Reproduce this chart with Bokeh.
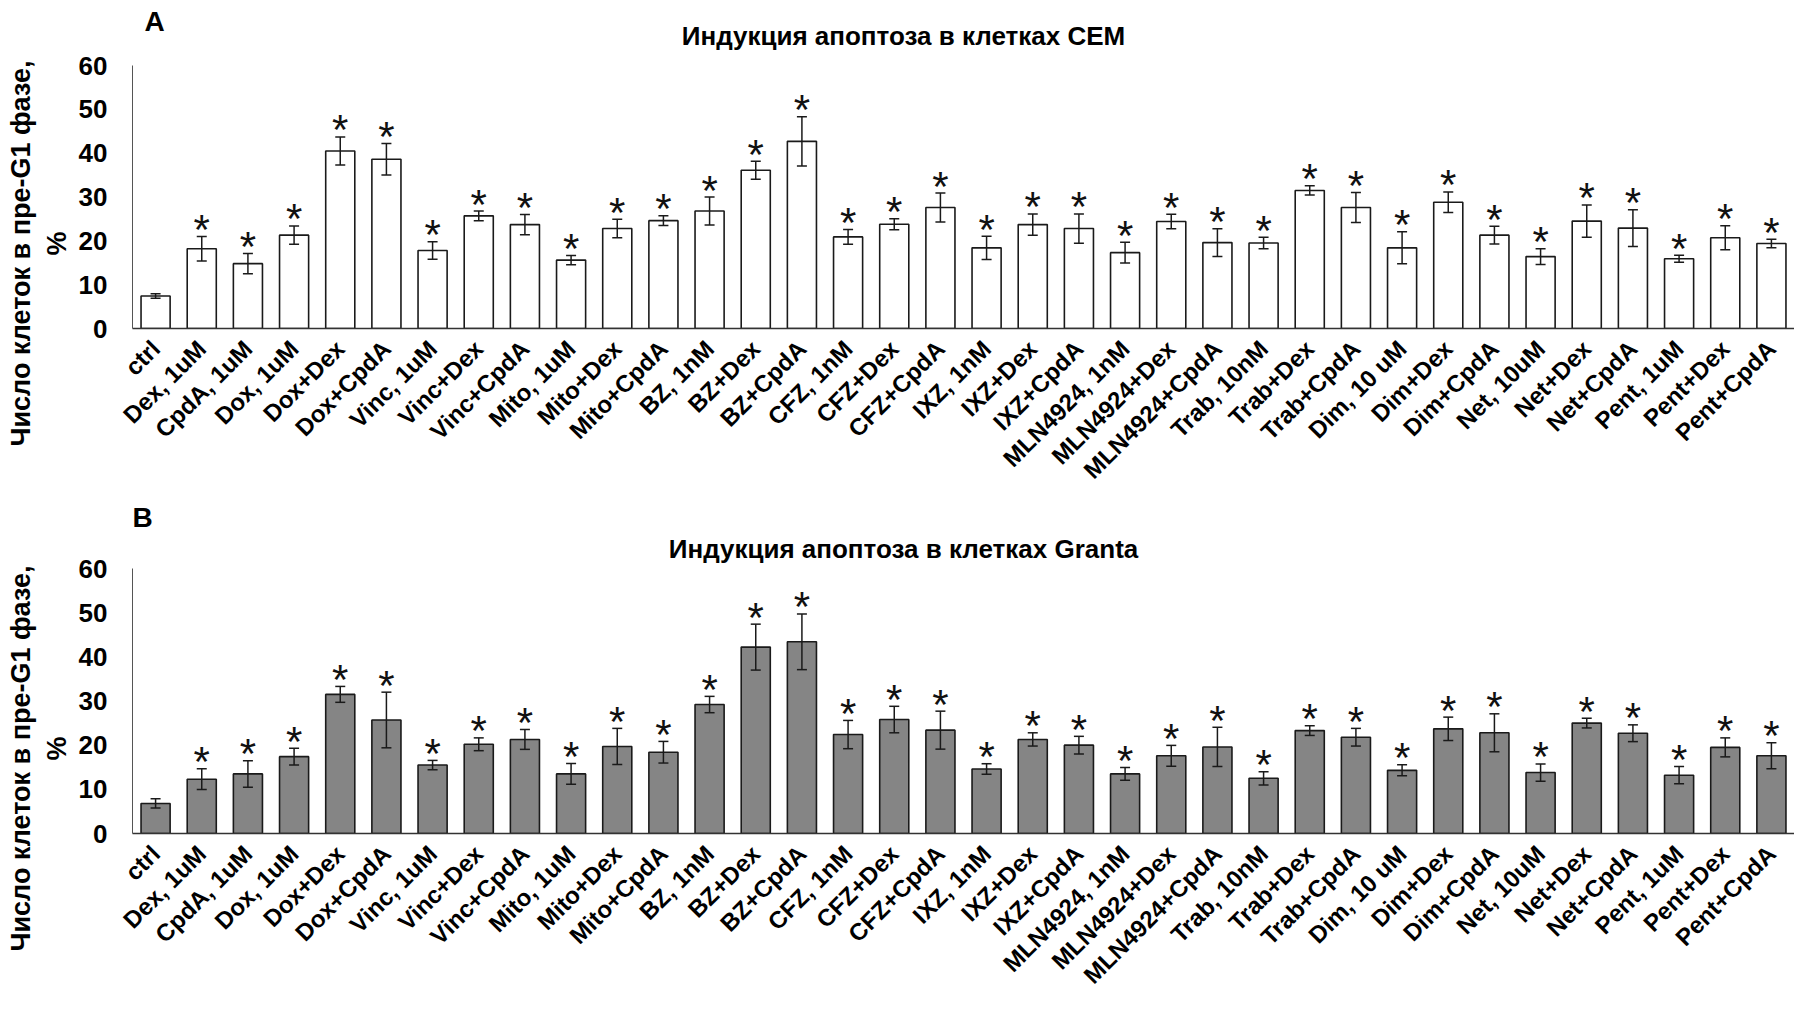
import math
from bokeh.plotting import figure
from bokeh.models import (Range1d, FixedTicker, Whisker, TeeHead, ColumnDataSource,
                          Label, Title)
from bokeh.layouts import column
from bokeh.embed import file_html
from bokeh.resources import INLINE
from bokeh.core.properties import value

# Treatments (x axis categories)
treatments = [
    "ctrl", "Dex, 1uM", "CpdA, 1uM", "Dox, 1uM", "Dox+Dex", "Dox+CpdA",
    "Vinc, 1uM", "Vinc+Dex", "Vinc+CpdA", "Mito, 1uM", "Mito+Dex", "Mito+CpdA",
    "BZ, 1nM", "BZ+Dex", "BZ+CpdA", "CFZ, 1nM", "CFZ+Dex", "CFZ+CpdA",
    "IXZ, 1nM", "IXZ+Dex", "IXZ+CpdA", "MLN4924, 1nM", "MLN4924+Dex", "MLN4924+CpdA",
    "Trab, 10nM", "Trab+Dex", "Trab+CpdA", "Dim, 10 uM", "Dim+Dex", "Dim+CpdA",
    "Net, 10uM", "Net+Dex", "Net+CpdA", "Pent, 1uM", "Pent+Dex", "Pent+CpdA",
]

# CEM cells: % of cells in pre-G1 phase (mean and error)
cem_mean = [7.4, 18.2, 14.8, 21.3, 40.5, 38.6, 17.8, 25.7, 23.7, 15.6, 22.8, 24.6,
            26.8, 36.1, 42.7, 20.9, 23.8, 27.6, 18.4, 23.7, 22.8, 17.3, 24.4, 19.6,
            19.5, 31.5, 27.6, 18.4, 28.8, 21.3, 16.4, 24.5, 22.9, 15.9, 20.7, 19.4]
cem_err = [0.5, 2.8, 2.3, 2.1, 3.2, 3.6, 2.0, 1.1, 2.3, 1.05, 2.1, 1.1,
           3.2, 2.05, 5.6, 1.7, 1.25, 3.3, 2.65, 2.45, 3.35, 2.35, 1.65, 3.15,
           1.3, 1.05, 3.4, 3.65, 2.35, 2.0, 1.8, 3.7, 4.2, 0.8, 2.75, 0.95]
cem_sig = [False] + [True] * 35

# Granta cells
granta_mean = [6.8, 12.3, 13.5, 17.4, 31.5, 25.7, 15.5, 20.2, 21.3, 13.5, 19.7, 18.4,
               29.2, 42.2, 43.4, 22.4, 25.8, 23.4, 14.6, 21.3, 20.0, 13.5, 17.6, 19.6,
               12.5, 23.3, 21.8, 14.3, 23.7, 22.8, 13.8, 25.0, 22.7, 13.2, 19.5, 17.6]
granta_err = [1.05, 2.35, 3.0, 1.9, 1.8, 6.3, 1.05, 1.45, 2.25, 2.35, 4.1, 2.45,
              1.85, 5.2, 6.3, 3.2, 3.0, 4.3, 1.2, 1.5, 2.0, 1.45, 2.35, 4.45,
              1.5, 1.1, 2.0, 1.25, 2.65, 4.3, 1.95, 1.1, 1.9, 1.95, 2.15, 2.95]
granta_sig = [False] + [True] * 35

y_ticks = [0, 10, 20, 30, 40, 50, 60]
y_label_main = "Число клеток в пре-G1 фазе,"
y_label_unit = "%"

FONT = "Liberation Sans"
INK = "#1a1a1a"
WIDTH = 1794
LEFT = 132


def make_panel(mean, err, sig, fill, letter, title, height, bottom, y_top,
               px_per_unit, letter_pos, title_pos):
    n = len(treatments)
    xs = list(range(n))
    px_per_cat = (WIDTH - LEFT) / n
    frame_bottom = height - bottom

    def to_x(px):  # canvas x (px) -> data x
        return -0.5 + (px - LEFT) / px_per_cat

    def to_y(py):  # canvas y (px, from top) -> data y
        return (frame_bottom - py) / px_per_unit

    src = ColumnDataSource(dict(
        x=xs, mean=mean,
        upper=[m + e for m, e in zip(mean, err)],
        lower=[m - e for m, e in zip(mean, err)],
    ))
    p = figure(width=WIDTH, height=height, title=None,
               x_range=Range1d(-0.5, n - 0.5), y_range=Range1d(0, y_top),
               output_backend="svg", toolbar_location=None,
               min_border_left=LEFT, min_border_right=0,
               min_border_top=0, min_border_bottom=bottom)
    p.outline_line_color = None
    p.xgrid.grid_line_color = None
    p.ygrid.grid_line_color = None
    p.background_fill_color = "white"
    p.border_fill_color = "white"

    p.vbar(x="x", top="mean", width=0.63, bottom=0, source=src,
           fill_color=fill, line_color=INK, line_width=1.6)

    head = dict(size=10, line_color=INK, line_width=1.5)
    p.add_layout(Whisker(base="x", upper="upper", lower="lower", source=src,
                         level="overlay", line_color=INK, line_width=1.5,
                         upper_head=TeeHead(**head), lower_head=TeeHead(**head)))

    star_src = ColumnDataSource(dict(
        x=[x for x, s in zip(xs, sig) if s],
        y=[m + e for m, e, s in zip(mean, err, sig) if s],
        t=["*" for s in sig if s],
    ))
    p.text(x="x", y="y", text="t", source=star_src, text_font=value(FONT),
           text_font_size="42px", text_align="center", text_baseline="alphabetic",
           y_offset=-7, text_color="#111111")

    # axes
    xa = p.xaxis[0]
    xa.ticker = FixedTicker(ticks=xs)
    xa.major_label_overrides = {i: t for i, t in enumerate(treatments)}
    xa.major_label_orientation = math.pi / 4
    xa.major_label_text_font = FONT
    xa.major_label_text_font_size = "24px"
    xa.major_label_text_font_style = "bold"
    xa.major_label_text_color = "#000000"
    xa.major_label_standoff = 16
    xa.major_tick_out = 0
    xa.major_tick_in = 0
    xa.major_tick_line_color = None
    xa.minor_tick_line_color = None
    xa.axis_line_color = "#333333"
    xa.axis_line_width = 1.5

    ya = p.yaxis[0]
    ya.ticker = FixedTicker(ticks=y_ticks)
    ya.bounds = (0, 60)
    ya.major_label_text_font = FONT
    ya.major_label_text_font_size = "26px"
    ya.major_label_text_font_style = "bold"
    ya.major_label_text_color = "#000000"
    ya.major_label_standoff = 25
    ya.major_tick_out = 0
    ya.major_tick_in = 0
    ya.major_tick_line_color = None
    ya.minor_tick_line_color = None
    ya.axis_line_color = "#555555"
    ya.axis_line_width = 1

    # y-axis title: two rotated lines, "%" next to the tick labels
    p.add_layout(Title(text=y_label_unit, align="left", offset=73, standoff=8,
                       text_font=FONT, text_font_size="27px", text_font_style="bold",
                       text_color="#000000"), "left")
    p.add_layout(Title(text=y_label_main, align="left", offset=-118, standoff=0,
                       text_font=FONT, text_font_size="27px", text_font_style="bold",
                       text_color="#000000"), "left")

    # panel letter and panel title inside the (extended) frame above the bars
    p.add_layout(Label(x=to_x(letter_pos[0]), y=to_y(letter_pos[1]), text=letter,
                       text_font=FONT, text_font_size="28px", text_font_style="bold",
                       text_color="#000000", text_align="left", text_baseline="middle"))
    p.add_layout(Label(x=to_x(title_pos[0]), y=to_y(title_pos[1]), text=title,
                       text_font=FONT, text_font_size="26px", text_font_style="bold",
                       text_color="#000000", text_align="center", text_baseline="middle"))
    return p


# panel A: zero line at 328 px, 60 at 65 px
ppu_a = (328 - 65) / 60
pa = make_panel(cem_mean, cem_err, cem_sig, "white",
                "A", "Индукция апоптоза в клетках CEM",
                height=498, bottom=170, y_top=328 / ppu_a, px_per_unit=ppu_a,
                letter_pos=(144, 21), title_pos=(903, 35))

# panel B: figure starts at 498 px; zero line at 833 px, 60 at 568 px
ppu_b = (833 - 568) / 60
pb = make_panel(granta_mean, granta_err, granta_sig, "#858585",
                "B", "Индукция апоптоза в клетках Granta",
                height=513, bottom=178, y_top=(833 - 498) / ppu_b, px_per_unit=ppu_b,
                letter_pos=(132, 517 - 498), title_pos=(903, 548 - 498))

layout = column(pa, pb, spacing=0)
open("out.html", "w").write(file_html(layout, INLINE))
